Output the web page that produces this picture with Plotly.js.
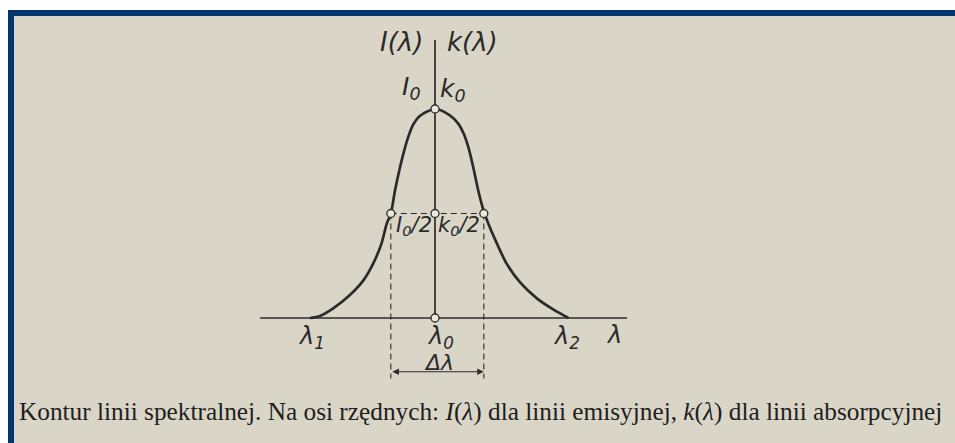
<!DOCTYPE html>
<html>
<head>
<meta charset="utf-8">
<script src="https://cdn.plot.ly/plotly-3.0.1.min.js"></script>
<style>
  html, body { margin: 0; padding: 0; background: #ffffff; }
  #chart { width: 955px; height: 443px; }
</style>
</head>
<body>
<div id="chart"></div>
<script>
// Spectral line profile: x in units of the half-width (λ0 = 0), y as I/I0
const profileX = [-2.69, -2.47, -2.19, -1.83, -1.54, -1.33, -1.15, -1.04, -0.95, -0.86, -0.75, -0.645, -0.57, -0.47, -0.32, 0.00,
                  0.32, 0.50, 0.62, 0.72, 0.82, 0.93, 1.05, 1.15, 1.33, 1.54, 1.83, 2.19, 2.55, 2.87];
const profileY = [0.00, 0.01, 0.046, 0.11, 0.18, 0.26, 0.357, 0.45, 0.50, 0.61, 0.724, 0.815, 0.87, 0.925, 0.968, 1.00,
                  0.97, 0.93, 0.88, 0.815, 0.724, 0.61, 0.51, 0.45, 0.357, 0.26, 0.17, 0.094, 0.04, 0.00];

// Marked points: peak, half-maximum points and line centre
const markX = [0.00, -0.95, 0.00, 1.05, 0.00];
const markY = [1.00, 0.50, 0.50, 0.50, 0.00];

// Half-width limits
const halfLeft = -0.95;
const halfRight = 1.05;
const halfLevel = 0.5;

// Axis extents
const baseFrom = -3.76, baseTo = 4.13;
const axisTop = 1.33;
const dashBottom = -0.29;
const arrowLevel = -0.257;

const ink = '#2b2b2b';
const paper = '#d9d6c8';
const frame = '#02356b';
const letterFamily = "DejaVu Sans, sans-serif";

const traces = [
  // axes
  {x: [baseFrom, baseTo], y: [0, 0], mode: 'lines', line: {color: ink, width: 1.7}, hoverinfo: 'skip'},
  {x: [0, 0], y: [0, axisTop], mode: 'lines', line: {color: ink, width: 1.7}, hoverinfo: 'skip'},
  // dashed half-width construction
  {x: [halfLeft, halfRight], y: [halfLevel, halfLevel], mode: 'lines',
   line: {color: ink, width: 1.1, dash: '6px,4px'}, hoverinfo: 'skip'},
  {x: [halfLeft, halfLeft], y: [halfLevel, dashBottom], mode: 'lines',
   line: {color: ink, width: 1.1, dash: '6px,4px'}, hoverinfo: 'skip'},
  {x: [halfRight, halfRight], y: [halfLevel, dashBottom], mode: 'lines',
   line: {color: ink, width: 1.1, dash: '6px,4px'}, hoverinfo: 'skip'},
  // profile
  {x: profileX, y: profileY, mode: 'lines', line: {color: ink, width: 2.7, shape: 'spline', smoothing: 0.8}, hoverinfo: 'skip'},
  // open circles
  {x: markX, y: markY, mode: 'markers',
   marker: {symbol: 'circle', size: 8, color: '#ece9dc', line: {color: ink, width: 1.3}}, hoverinfo: 'skip'}
];

function lbl(x, y, text, size) {
  return {x: x, y: y, xref: 'x', yref: 'y', text: text, showarrow: false,
    font: {family: letterFamily, size: size, color: ink}};
}

const annotations = [
  lbl(-0.73, 1.32, '<i>I(λ)</i>', 26),
  lbl(0.80, 1.32, '<i>k(λ)</i>', 26),
  lbl(-0.50, 1.10, '<i>I<sub>0</sub></i>', 25),
  lbl(0.38, 1.09, '<i>k<sub>0</sub></i>', 25),
  lbl(-0.46, 0.44, '<i>I<sub>0</sub>/2</i>', 21),
  lbl(0.51, 0.44, '<i>k<sub>0</sub>/2</i>', 21),
  lbl(-2.65, -0.095, '<i>λ<sub>1</sub></i>', 24),
  lbl(0.11, -0.095, '<i>λ<sub>0</sub></i>', 24),
  lbl(2.82, -0.095, '<i>λ<sub>2</sub></i>', 24),
  lbl(3.85, -0.08, '<i>λ</i>', 24),
  lbl(0.09, -0.215, '<i>Δλ</i>', 22),
  // double-headed arrow for the half-width
  {x: halfRight, y: arrowLevel, ax: halfLeft, ay: arrowLevel, xref: 'x', yref: 'y', axref: 'x', ayref: 'y',
   text: '', showarrow: true, arrowhead: 2, startarrowhead: 2, arrowside: 'end+start',
   arrowsize: 1.1, startarrowsize: 1.1, arrowwidth: 1.2, arrowcolor: ink, standoff: 0, startstandoff: 0},
  // caption
  {x: 17 / 955, y: 1 - 411 / 443, xref: 'paper', yref: 'paper', xanchor: 'left', yanchor: 'middle',
   showarrow: false,
   text: 'Kontur linii spektralnej. Na osi rzędnych: <i>I</i>(<i>λ</i>) dla linii emisyjnej, <i>k</i>(<i>λ</i>) dla linii absorpcyjnej',
   font: {family: "Liberation Serif, DejaVu Serif, serif", size: 25.3, color: '#1e1e1e'}}
];

// page frame: white margin and blue band along the top and left
const shapes = [
  {type: 'rect', xref: 'paper', yref: 'paper', x0: 0, x1: 1, y0: 1 - 10 / 443, y1: 1,
   fillcolor: '#ffffff', line: {width: 0}, layer: 'above'},
  {type: 'rect', xref: 'paper', yref: 'paper', x0: 0, x1: 8 / 955, y0: 0, y1: 1,
   fillcolor: '#ffffff', line: {width: 0}, layer: 'above'},
  {type: 'rect', xref: 'paper', yref: 'paper', x0: 8 / 955, x1: 1, y0: 1 - 16 / 443, y1: 1 - 10 / 443,
   fillcolor: frame, line: {width: 0}, layer: 'above'},
  {type: 'rect', xref: 'paper', yref: 'paper', x0: 8 / 955, x1: 14 / 955, y0: 0, y1: 1 - 10 / 443,
   fillcolor: frame, line: {width: 0}, layer: 'above'}
];

const layout = {
  width: 955, height: 443,
  margin: {l: 0, r: 0, t: 0, b: 0, pad: 0},
  paper_bgcolor: paper, plot_bgcolor: 'rgba(0,0,0,0)',
  showlegend: false,
  xaxis: {range: [-9.355, 11.183], visible: false, fixedrange: true},
  yaxis: {range: [-0.598, 1.5215], visible: false, fixedrange: true},
  annotations: annotations,
  shapes: shapes
};

Plotly.newPlot('chart', traces, layout, {displayModeBar: false, staticPlot: true});
</script>
</body>
</html>
